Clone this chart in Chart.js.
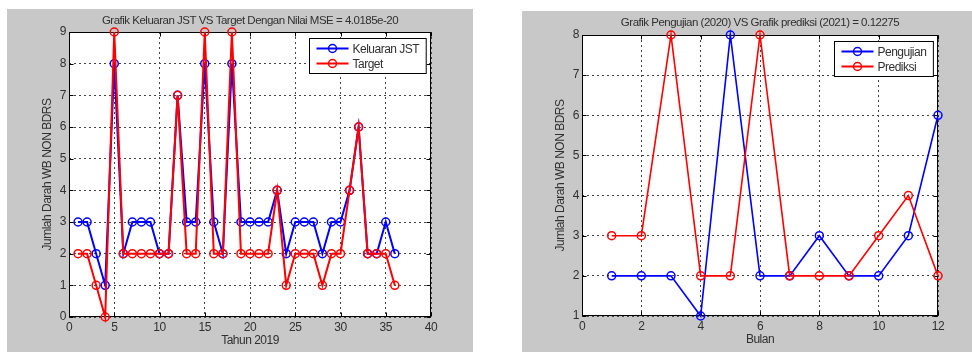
<!DOCTYPE html>
<html>
<head>
<meta charset="utf-8">
<script src="https://cdn.jsdelivr.net/npm/chart.js@4.4.1/dist/chart.umd.min.js"></script>
<style>
  html, body { margin: 0; padding: 0; background: #fff; width: 972px; height: 352px; overflow: hidden; }
  canvas { position: absolute; background: #c8c8c8; }
  #chartLeft { left: 7px; top: 9px; }
  #chartRight { left: 522px; top: 11px; }
</style>
</head>
<body>
<canvas id="chartLeft" width="466" height="343"></canvas>
<canvas id="chartRight" width="450" height="341"></canvas>
<script>
// left plot: network output vs target, 2019
const periode2019 = [1, 2, 3, 4, 5, 6, 7, 8, 9, 10, 11, 12, 13, 14, 15, 16, 17, 18,
  19, 20, 21, 22, 23, 24, 25, 26, 27, 28, 29, 30, 31, 32, 33, 34, 35, 36];
const keluaranJST = [3, 3, 2, 1, 8, 2, 3, 3, 3, 2, 2, 7, 3, 3, 8, 3, 2, 8,
  3, 3, 3, 3, 4, 2, 3, 3, 3, 2, 3, 3, 4, 6, 2, 2, 3, 2];
const target2019 = [2, 2, 1, 0, 9, 2, 2, 2, 2, 2, 2, 7, 2, 2, 9, 2, 2, 9,
  2, 2, 2, 2, 4, 1, 2, 2, 2, 1, 2, 2, 4, 6, 2, 2, 2, 1];

// right plot: test (2020) vs prediction (2021)
const bulan = [1, 2, 3, 4, 5, 6, 7, 8, 9, 10, 11, 12];
const pengujian2020 = [2, 2, 2, 1, 8, 2, 2, 3, 2, 2, 3, 6];
const prediksi2021 = [3, 3, 8, 2, 2, 8, 2, 2, 2, 3, 4, 2];

const FONT = 'Arial, "Liberation Sans", Helvetica, sans-serif';
const INK = '#303030';

const points = (xs, ys) => xs.map((x, i) => ({ x, y: ys[i] }));

// white axes box, solid frame, MATLAB-style inward ticks, title over the axes and boxed legend
const plotFrame = {
  id: 'plotFrame',
  beforeDraw(chart) {
    const { ctx, chartArea: a } = chart;
    // the screenshot's text is squeezed a bit, tighten every label the same way
    ctx.letterSpacing = '-0.5px';
    ctx.save();
    ctx.fillStyle = '#fff';
    ctx.fillRect(a.left, a.top, a.width, a.height);
    ctx.restore();
  },
  beforeDatasetsDraw(chart) {
    const { ctx, chartArea: a, scales: { x, y } } = chart;
    const L = Math.round(a.left) + 0.5, R = Math.round(a.right) - 0.5;
    const T = Math.round(a.top) + 0.5, B = Math.round(a.bottom) - 0.5;
    ctx.save();
    ctx.strokeStyle = '#000';
    ctx.lineWidth = 1;
    ctx.strokeRect(L, T, R - L, B - T);
    ctx.beginPath();
    x.ticks.forEach((t) => {
      const px = Math.round(x.getPixelForValue(t.value)) + 0.5;
      ctx.moveTo(px, B); ctx.lineTo(px, B - 4);
      ctx.moveTo(px, T); ctx.lineTo(px, T + 4);
    });
    y.ticks.forEach((t) => {
      const py = Math.round(y.getPixelForValue(t.value)) + 0.5;
      ctx.moveTo(L, py); ctx.lineTo(L + 4, py);
      ctx.moveTo(R, py); ctx.lineTo(R - 4, py);
    });
    ctx.stroke();
    ctx.restore();
  },
  afterDraw(chart, args, opts) {
    const { ctx, chartArea: a } = chart;
    const sets = chart.data.datasets;
    ctx.save();

    // title centred over the axes box, like MATLAB does it
    ctx.font = '11.5px ' + FONT;
    ctx.fillStyle = INK;
    ctx.textAlign = 'center';
    ctx.textBaseline = 'middle';
    ctx.fillText(opts.title, (a.left + a.right) / 2, opts.titleY);

    ctx.font = '12px ' + FONT;
    ctx.textAlign = 'left';
    const textW = Math.max(...sets.map((d) => ctx.measureText(d.label).width));
    const w = 7 + 32 + 4 + textW + 7;
    const h = 35;
    const x0 = Math.round(a.right - 5 - w) + 0.5;
    const y0 = Math.round(a.top + 6) + 0.5;
    ctx.fillStyle = '#fff';
    ctx.fillRect(x0, y0, w, h);
    ctx.strokeStyle = '#000';
    ctx.lineWidth = 1;
    ctx.strokeRect(x0, y0, w, h);
    sets.forEach((d, i) => {
      const cy = y0 + 10 + i * 15;
      ctx.strokeStyle = d.borderColor;
      ctx.lineWidth = 2;
      ctx.beginPath();
      ctx.moveTo(x0 + 7, cy); ctx.lineTo(x0 + 39, cy);
      ctx.stroke();
      ctx.lineWidth = 1.5;
      ctx.beginPath();
      ctx.arc(x0 + 23, cy, 4, 0, Math.PI * 2);
      ctx.stroke();
      ctx.fillStyle = INK;
      ctx.fillText(d.label, x0 + 43, cy + 1);
    });
    ctx.restore();
  },
};

function series(label, color, xs, ys, order, width) {
  return {
    label,
    data: points(xs, ys),
    borderColor: color,
    borderWidth: width,
    pointRadius: 4,
    pointBorderWidth: 1.5,
    pointBackgroundColor: 'rgba(0,0,0,0)',
    pointBorderColor: color,
    tension: 0,
    clip: false,
    order,
  };
}

function axis(opts) {
  return {
    type: 'linear',
    min: opts.min,
    max: opts.max,
    ticks: { stepSize: opts.step, color: INK, font: { family: FONT, size: 12 }, padding: 3, maxRotation: 0 },
    grid: { color: '#444', lineWidth: 1, drawTicks: false },
    border: { display: false, dash: [2, 3] },
    title: { display: true, text: opts.title, color: INK, font: { family: FONT, size: 12 }, padding: opts.titlePad },
    afterFit: opts.fit,
  };
}

function makeChart(id, cfg) {
  return new Chart(document.getElementById(id), {
    type: 'line',
    data: { datasets: cfg.datasets },
    options: {
      responsive: false,
      animation: false,
      layout: { padding: { left: 0, right: cfg.right, top: cfg.top, bottom: 0 } },
      plugins: {
        legend: { display: false },
        tooltip: { enabled: false },
        title: { display: false },
        plotFrame: { title: cfg.title, titleY: cfg.titleY },
      },
      scales: { x: cfg.x, y: cfg.y },
    },
    plugins: [plotFrame],
  });
}

makeChart('chartLeft', {
  title: 'Grafik Keluaran JST VS Target Dengan Nilai MSE = 4.0185e-20',
  titleY: 11.5,
  top: 23,
  right: 42,
  datasets: [
    series('Keluaran JST', '#0000ff', periode2019, keluaranJST, 2, 2),
    series('Target', '#ff0000', periode2019, target2019, 1, 2),
  ],
  x: axis({ min: 0, max: 40, step: 5, title: 'Tahun 2019', titlePad: { top: 0, bottom: 4 }, fit: (s) => { s.height = 35; } }),
  y: axis({ min: 0, max: 9, step: 1, title: 'Jumlah Darah WB NON BDRS', titlePad: { top: 33, bottom: 0 }, fit: (s) => { s.width = 62; } }),
});

makeChart('chartRight', {
  title: 'Grafik Pengujian (2020) VS Grafik prediksi (2021) = 0.12275',
  titleY: 12,
  top: 24,
  right: 34,
  datasets: [
    series('Pengujian', '#0000ff', bulan, pengujian2020, 2, 1.6),
    series('Prediksi', '#ff0000', bulan, prediksi2021, 1, 1.6),
  ],
  x: axis({ min: 0, max: 12, step: 2, title: 'Bulan', titlePad: { top: 0, bottom: 5 }, fit: (s) => { s.height = 36; } }),
  y: axis({ min: 1, max: 8, step: 1, title: 'Jumlah Darah WB NON BDRS', titlePad: { top: 31, bottom: 0 }, fit: (s) => { s.width = 60; } }),
});
</script>
</body>
</html>
